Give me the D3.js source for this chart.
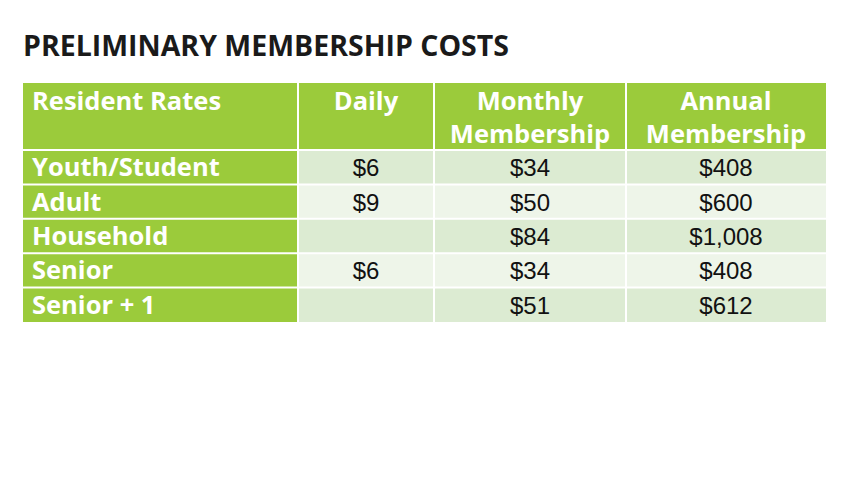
<!DOCTYPE html>
<html><head><meta charset="utf-8">
<script src="https://cdn.jsdelivr.net/npm/d3@7"></script>
<style>body{margin:0;background:#fff}</style></head>
<body><svg id="c" width="858" height="483"></svg>
<script>
const headers = [["Resident Rates"],["Daily"],["Monthly","Membership"],["Annual","Membership"]];
const categories = ["Youth/Student","Adult","Household","Senior","Senior + 1"];
const daily = ["$6","$9","","$6",""];
const monthly = ["$34","$50","$84","$34","$51"];
const annual = ["$408","$600","$1,008","$408","$612"];

const svg = d3.select("#c");
svg.append("text").attr("x",23).attr("y",56).attr("font-family","Open Sans, sans-serif")
  .attr("font-weight",700).attr("font-size",28.5).attr("fill","#1a1a1a").text("PRELIMINARY MEMBERSHIP COSTS");

const colEdges = [23,298,434,626,826];
const green = "#9bcb3b", light1 = "#dcebd2", light2 = "#eef5e9";
const headTop = 83, headBot = 150;
const y = d3.scaleBand().domain(categories).range([150,322]);
const hf = "Open Sans, sans-serif";

headers.forEach((h,i)=>{
  svg.append("rect").attr("x",colEdges[i]).attr("y",headTop).attr("width",colEdges[i+1]-colEdges[i]).attr("height",headBot-headTop).attr("fill",green);
  h.forEach((line,j)=>{
    svg.append("text").attr("x", i===0 ? colEdges[0]+9 : (colEdges[i]+colEdges[i+1])/2)
      .attr("text-anchor", i===0?"start":"middle").attr("y",headTop+27+j*33)
      .attr("font-family",hf).attr("font-weight",700).attr("font-size",25.5).attr("fill","#fff").text(line);
  });
});
const cols = [daily, monthly, annual];
categories.forEach((c,r)=>{
  const yy = y(c), hh = y.bandwidth();
  svg.append("rect").attr("x",colEdges[0]).attr("y",yy).attr("width",colEdges[1]-colEdges[0]).attr("height",hh).attr("fill",green);
  svg.append("text").attr("x",colEdges[0]+9).attr("y",yy+hh/2+9).attr("font-family",hf).attr("font-weight",700)
    .attr("font-size",25.5).attr("fill","#fff").text(c);
  cols.forEach((arr,k)=>{
    svg.append("rect").attr("x",colEdges[k+1]).attr("y",yy).attr("width",colEdges[k+2]-colEdges[k+1]).attr("height",hh)
      .attr("fill", r%2===0?light1:light2);
    svg.append("text").attr("x",(colEdges[k+1]+colEdges[k+2])/2).attr("y",yy+hh/2+9).attr("text-anchor","middle")
      .attr("font-family","Liberation Sans, Arial, sans-serif").attr("font-size",24).attr("fill","#111").text(arr[r]);
  });
});
colEdges.slice(1,-1).forEach(x=>svg.append("line").attr("x1",x).attr("x2",x).attr("y1",headTop).attr("y2",322).attr("stroke","#fff").attr("stroke-width",2));
[150,...categories.slice(1).map(c=>y(c))].forEach(v=>svg.append("line").attr("x1",23).attr("x2",826).attr("y1",v).attr("y2",v).attr("stroke","#fff").attr("stroke-width",2));
</script></body></html>
